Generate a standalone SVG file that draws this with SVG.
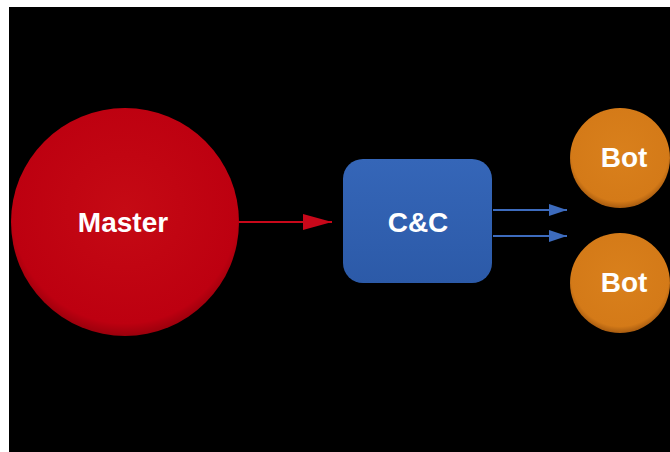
<svg xmlns="http://www.w3.org/2000/svg" width="670" height="452" viewBox="0 0 670 452">
  <style>
    .lbl { font-family: "Liberation Sans", Arial, sans-serif; font-weight: bold; font-size: 28px; fill: #ffffff; text-anchor: middle; }
  </style>
  <defs>
    <radialGradient id="gRed" cx="50%" cy="45%" r="55%">
      <stop offset="0" stop-color="#c50a14"/>
      <stop offset="0.9" stop-color="#bd0010"/>
      <stop offset="1" stop-color="#9a000c"/>
    </radialGradient>
    <radialGradient id="gOrange" cx="50%" cy="45%" r="55%">
      <stop offset="0" stop-color="#d9801c"/>
      <stop offset="0.88" stop-color="#d47a18"/>
      <stop offset="1" stop-color="#a85c10"/>
    </radialGradient>
    <linearGradient id="gBlue" x1="0" y1="0" x2="0" y2="1">
      <stop offset="0" stop-color="#3566b8"/>
      <stop offset="1" stop-color="#2c5aa8"/>
    </linearGradient>
    <marker id="mRed" viewBox="0 0 10 10" refX="10" refY="5" markerWidth="29" markerHeight="16" markerUnits="userSpaceOnUse" orient="auto" preserveAspectRatio="none">
      <path d="M0,0 L10,5 L0,10 Z" fill="#c8081a"/>
    </marker>
    <marker id="mBlue" viewBox="0 0 10 10" refX="10" refY="5" markerWidth="18" markerHeight="12" markerUnits="userSpaceOnUse" orient="auto" preserveAspectRatio="none">
      <path d="M0,0 L10,5 L0,10 Z" fill="#3d6bbd"/>
    </marker>
  </defs>
  <rect x="0" y="0" width="670" height="452" fill="#ffffff"/>
  <rect x="9" y="7" width="661" height="445" fill="#000000"/>

  <g id="connectors">
    <line x1="239" y1="222" x2="332" y2="222" stroke="#c8081a" stroke-width="2" marker-end="url(#mRed)"/>
    <line x1="493" y1="210" x2="567" y2="210" stroke="#3d6bbd" stroke-width="2" marker-end="url(#mBlue)"/>
    <line x1="493" y1="236" x2="567" y2="236" stroke="#3d6bbd" stroke-width="2" marker-end="url(#mBlue)"/>
  </g>

  <g id="master">
    <circle cx="125" cy="222" r="114" fill="url(#gRed)"/>
    <text class="lbl" x="123" y="232">Master</text>
  </g>

  <g id="cc">
    <rect x="343" y="159" width="149" height="124" rx="20" ry="20" fill="url(#gBlue)"/>
    <text class="lbl" x="418" y="232">C&amp;C</text>
  </g>

  <g id="bot1">
    <circle cx="620" cy="158" r="50" fill="url(#gOrange)"/>
    <text class="lbl" x="624" y="167">Bot</text>
  </g>

  <g id="bot2">
    <circle cx="620" cy="283" r="50" fill="url(#gOrange)"/>
    <text class="lbl" x="624" y="292">Bot</text>
  </g>
</svg>
